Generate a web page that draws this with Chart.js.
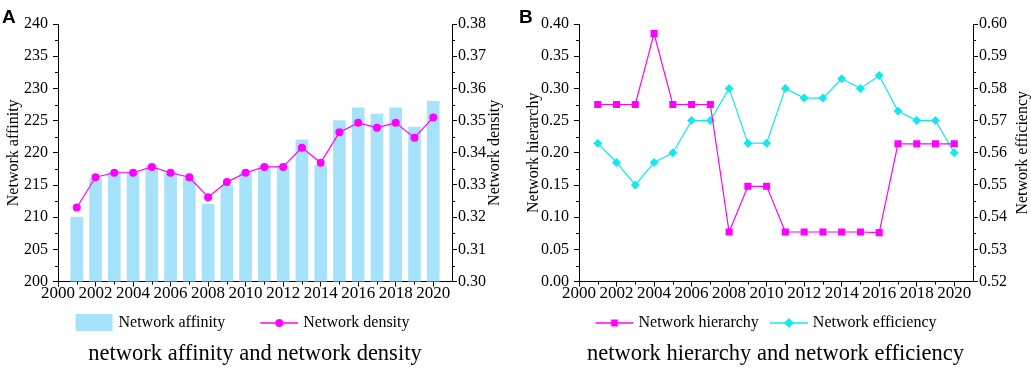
<!DOCTYPE html>
<html>
<head>
<meta charset="utf-8">
<script src="https://cdn.jsdelivr.net/npm/chart.js@4.4.0/dist/chart.umd.min.js"></script>
<style>
  body { margin: 0; background: #fff; width: 1031px; height: 368px; overflow: hidden; position: relative; }
  .panel { position: absolute; top: 0; height: 368px; }
  .tag { position: absolute; font: bold 19px "Liberation Sans", Arial, sans-serif; line-height: 1; }
</style>
</head>
<body>
<div class="panel" style="left:0;width:510px"><canvas id="chartA" width="510" height="368"></canvas></div>
<div class="panel" style="left:520px;width:511px"><canvas id="chartB" width="511" height="368"></canvas></div>
<div class="tag" style="left:2px;top:7px">A</div>
<div class="tag" style="left:519px;top:7px">B</div>
<script>
// values
const years = [2001, 2002, 2003, 2004, 2005, 2006, 2007, 2008, 2009, 2010,
               2011, 2012, 2013, 2014, 2015, 2016, 2017, 2018, 2019, 2020];
const xTicks = [2000, 2002, 2004, 2006, 2008, 2010, 2012, 2014, 2016, 2018, 2020];

const affinity = [210, 216, 217, 217, 218, 217, 216, 212, 215, 217,
                  218, 218, 222, 218, 225, 227, 226, 227, 224, 228];
const density = [0.323, 0.3324, 0.3338, 0.3338, 0.3356, 0.3338, 0.3324, 0.3262, 0.3309, 0.3338,
                 0.3356, 0.3356, 0.3416, 0.3369, 0.3464, 0.3493, 0.3478, 0.3493, 0.3447, 0.351];
const hierarchy = [0.275, 0.275, 0.275, 0.385, 0.275, 0.275, 0.275, 0.077, 0.148, 0.148,
                   0.077, 0.077, 0.077, 0.077, 0.077, 0.076, 0.214, 0.214, 0.214, 0.214];
const efficiency = [0.563, 0.557, 0.550, 0.557, 0.560, 0.570, 0.570, 0.580, 0.563, 0.563,
                    0.580, 0.577, 0.577, 0.583, 0.580, 0.584, 0.573, 0.570, 0.570, 0.560];

const BAR = '#A6E3FA';
const MAGENTA = '#FF00FF';
const CYAN = '#14E8EE';
const serif = '"Liberation Serif", "Times New Roman", serif';

Chart.defaults.font.family = serif;
Chart.defaults.color = '#000';

function xy(vals) {
    return years.map((x, i) => ({ x: x, y: vals[i] }));
}

// legend pictures: box or line+marker, pushed to the right end of a
// canvas that is a bit wider than the legend box (so the text sits closer)
function legendIcon(kind, color, boxW) {
    const c = document.createElement('canvas');
    const ctx = c.getContext('2d');
    c.width = boxW + 6;
    c.height = 18;
    const x0 = c.width - 38;
    ctx.strokeStyle = color;
    ctx.fillStyle = color;
    if (kind === 'bar') {
        ctx.fillRect(x0, 0, 37, 17);
        return c;
    }
    ctx.lineWidth = 1.5;
    ctx.beginPath(); ctx.moveTo(x0, 9); ctx.lineTo(x0 + 38, 9); ctx.stroke();
    ctx.beginPath();
    const cx = x0 + 19;
    if (kind === 'circle') ctx.arc(cx, 9, 4, 0, Math.PI * 2);
    if (kind === 'rect') ctx.rect(cx - 3.5, 5.5, 7, 7);
    if (kind === 'diamond') { ctx.moveTo(cx, 4); ctx.lineTo(cx + 5, 9); ctx.lineTo(cx, 14); ctx.lineTo(cx - 5, 9); ctx.closePath(); }
    ctx.fill();
    return c;
}

const minorTicks = {
    id: 'minorTicks',
    afterDraw(chart) {
        const ctx = chart.ctx;
        ctx.save();
        ctx.strokeStyle = '#000';
        ctx.lineWidth = 1;
        Object.values(chart.scales).forEach(scale => {
            const t = scale.ticks.map(k => k.value);
            for (let i = 0; i < t.length - 1; i++) {
                const p = Math.round(scale.getPixelForValue((t[i] + t[i + 1]) / 2)) + 0.5;
                ctx.beginPath();
                if (scale.isHorizontal()) {
                    ctx.moveTo(p, scale.top); ctx.lineTo(p, scale.top + 3);
                } else if (scale.position === 'left') {
                    ctx.moveTo(scale.right, p); ctx.lineTo(scale.right - 3, p);
                } else {
                    ctx.moveTo(scale.left, p); ctx.lineTo(scale.left + 3, p);
                }
                ctx.stroke();
            }
        });
        ctx.restore();
    }
};

// right hand axis title reads bottom to top in the figure
const rightTitle = {
    id: 'rightTitle',
    afterDraw(chart, args, opts) {
        const s = chart.scales.y1;
        const ctx = chart.ctx;
        ctx.save();
        ctx.font = '16px ' + serif;
        ctx.fillStyle = '#000';
        ctx.textAlign = 'center';
        ctx.textBaseline = 'middle';
        ctx.translate(chart.chartArea.right + opts.offset, (s.top + s.bottom) / 2);
        ctx.rotate(-Math.PI / 2);
        ctx.fillText(opts.text, 0, 0);
        ctx.restore();
    }
};

const legendShift = {
    id: 'legendShift',
    afterLayout(chart, args, opts) {
        const lg = chart.legend;
        lg.left += opts.dx; lg.right += opts.dx;
        lg.top += opts.dy; lg.bottom += opts.dy;
    }
};

function axisLook(extra) {
    return Object.assign({
        grid: { display: true, drawOnChartArea: false, drawTicks: true, tickLength: 5, tickColor: '#000', offset: false },
        border: { display: true, color: '#000', width: 1 }
    }, extra);
}

function makeOptions(cfg) {
    return {
        responsive: false,
        animation: false,
        layout: { padding: { top: 24, bottom: 0, left: 0, right: 0 } },
        plugins: {
            tooltip: { enabled: false },
            legend: {
                position: 'bottom',
                labels: {
                    usePointStyle: true,
                    pointStyleWidth: cfg.boxW,
                    padding: 8,
                    font: { size: 16 },
                    generateLabels: chart => chart.data.datasets.map((d, i) => ({
                        text: d.label,
                        pointStyle: cfg.icons[i],
                        fillStyle: 'transparent',
                        strokeStyle: 'transparent',
                        lineWidth: 0,
                        hidden: false,
                        datasetIndex: i,
                        fontColor: '#000'
                    }))
                }
            },
            title: {
                display: true,
                position: 'bottom',
                text: cfg.caption,
                font: { size: 22.5, weight: 'normal' },
                color: '#000',
                padding: { top: 6, bottom: 0 }
            },
            rightTitle: { text: cfg.rightText, offset: cfg.rightOffset },
            legendShift: { dx: cfg.legendDx, dy: 6 }
        },
        scales: {
            x: axisLook({
                type: 'linear',
                min: 2000,
                max: 2021,
                offset: false,
                afterBuildTicks: s => { s.ticks = xTicks.map(v => ({ value: v })); },
                ticks: { font: { size: 17 }, padding: -3, maxRotation: 0, autoSkip: false, callback: v => String(v) }
            }),
            y: axisLook({
                position: 'left',
                min: cfg.y.min, max: cfg.y.max,
                afterFit: s => { s.width = cfg.leftW; },
                ticks: { stepSize: cfg.y.step, font: { size: 16 }, padding: 5, callback: cfg.y.fmt },
                title: { display: true, text: cfg.leftText, font: { size: 16 }, padding: { top: 4, bottom: 0 } }
            }),
            y1: axisLook({
                position: 'right',
                min: cfg.y1.min, max: cfg.y1.max,
                afterFit: s => { s.width = cfg.rightW; },
                ticks: { stepSize: cfg.y1.step, font: { size: 16 }, padding: 1, callback: v => v.toFixed(2) }
            })
        }
    };
}

new Chart(document.getElementById('chartA'), {
    type: 'bar',
    data: {
        datasets: [
            {
                type: 'bar',
                label: 'Network affinity',
                data: xy(affinity),
                backgroundColor: BAR,
                borderWidth: 0,
                barThickness: 12,
                yAxisID: 'y',
                order: 2
            },
            {
                type: 'line',
                label: 'Network density',
                data: xy(density),
                borderColor: MAGENTA,
                borderWidth: 1.2,
                pointRadius: 4,
                pointBackgroundColor: MAGENTA,
                pointBorderWidth: 0,
                yAxisID: 'y1',
                order: 1
            }
        ]
    },
    options: makeOptions({
        caption: 'network affinity and network density',
        leftText: 'Network affinity',
        rightText: 'Network density',
        rightOffset: 43,
        leftW: 58, rightW: 58,
        y: { min: 200, max: 240, step: 5, fmt: v => String(v) },
        y1: { min: 0.30, max: 0.38, step: 0.01 },
        boxW: 62,
        icons: [legendIcon('bar', BAR, 62), legendIcon('circle', MAGENTA, 62)],
        legendDx: -26
    }),
    plugins: [minorTicks, rightTitle, legendShift]
});

new Chart(document.getElementById('chartB'), {
    type: 'line',
    data: {
        datasets: [
            {
                label: 'Network hierarchy',
                data: xy(hierarchy),
                borderColor: MAGENTA,
                borderWidth: 1.2,
                pointStyle: 'rect',
                pointRadius: 5,
                pointBackgroundColor: MAGENTA,
                pointBorderWidth: 0,
                yAxisID: 'y'
            },
            {
                label: 'Network efficiency',
                data: xy(efficiency),
                borderColor: CYAN,
                borderWidth: 1.2,
                pointStyle: 'rectRot',
                pointRadius: 4.5,
                pointBackgroundColor: CYAN,
                pointBorderWidth: 0,
                yAxisID: 'y1'
            }
        ]
    },
    options: makeOptions({
        caption: 'network hierarchy and network efficiency',
        leftText: 'Network hierarchy',
        rightText: 'Network efficiency',
        rightOffset: 50,
        leftW: 59, rightW: 58,
        y: { min: 0, max: 0.40, step: 0.05, fmt: v => v.toFixed(2) },
        y1: { min: 0.52, max: 0.60, step: 0.01 },
        boxW: 38,
        icons: [legendIcon('rect', MAGENTA, 38), legendIcon('diamond', CYAN, 38)],
        legendDx: -11
    }),
    plugins: [minorTicks, rightTitle, legendShift]
});
</script>
</body>
</html>
